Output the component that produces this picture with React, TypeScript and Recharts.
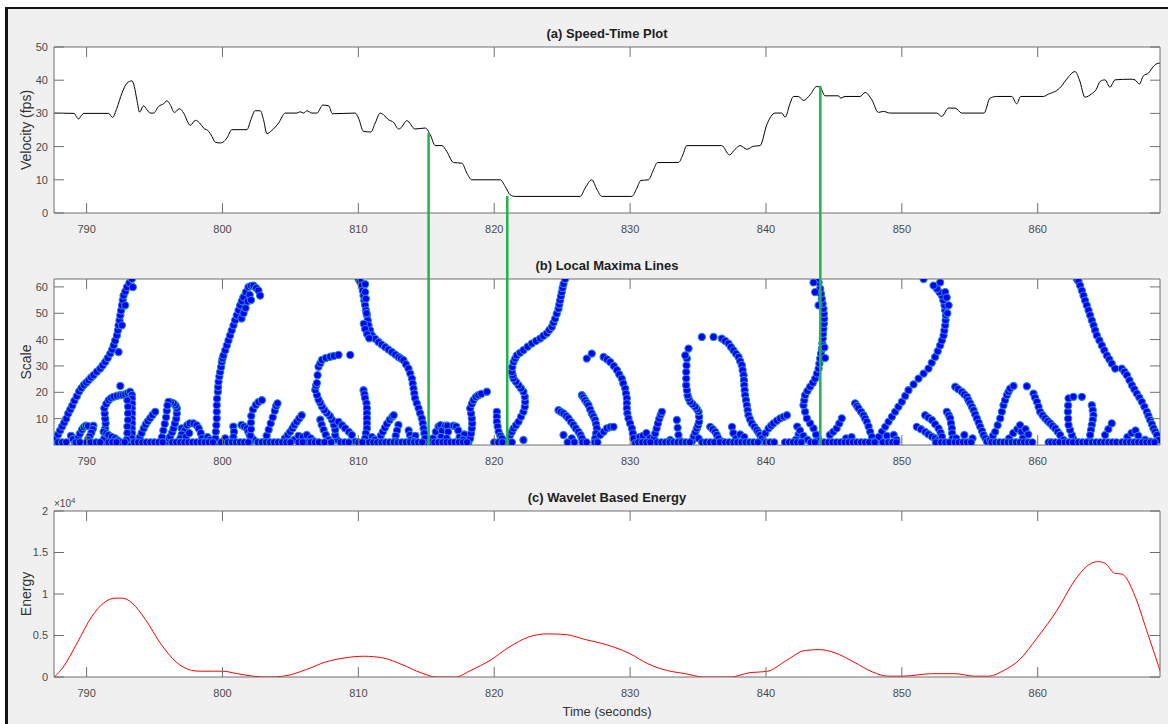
import React from 'react';
import { LineChart, Line, ScatterChart, Scatter, XAxis, YAxis, ComposedChart } from 'recharts';

const FONT = '"Liberation Sans", Arial, Helvetica, sans-serif';
const AX = '#6f6f6f';
const TICK_FILL = '#4a4a4a';
const TICK_FS = 11;
const TICK_LEN = 10;

// ---------- axes ----------
const X_DOMAIN: [number, number] = [787.6, 869];
const X_TICKS = [790, 800, 810, 820, 830, 840, 850, 860];
const V_DOMAIN: [number, number] = [0, 50];
const V_TICKS = [0, 10, 20, 30, 40, 50];
const S_DOMAIN: [number, number] = [0, 63];
const S_TICKS = [10, 20, 30, 40, 50, 60];
const E_DOMAIN: [number, number] = [0, 20000];
const E_TICKS = [0, 5000, 10000, 15000, 20000];

// ---------- (a) speed [time s, velocity fps] ----------
const speedPoints: [number, number][] = [
  [787.62, 30.1], [789.09, 30], [789.25, 29], [789.41, 28.3], [789.6, 29.3], [789.78, 30], [791.62, 30], [791.91, 28.8],
  [792.23, 31.6], [792.6, 36.1], [792.97, 39.1], [793.34, 39.8], [793.51, 38.1], [793.7, 34.1], [793.9, 30.4], [794.19, 32.3],
  [794.44, 31.1], [794.68, 30.1], [794.93, 30.1], [795.3, 32.1], [795.67, 32.9], [795.91, 33.8], [796.16, 32.6], [796.45, 30.3],
  [796.84, 31.4], [797.14, 30.1], [797.63, 26.4], [798.0, 27.9], [798.32, 27.1], [798.61, 25.6], [798.98, 24.6], [799.22, 23.1],
  [799.47, 21.3], [799.84, 21.1], [800.03, 21.3], [800.33, 22.6], [800.69, 25.1], [801.8, 25.1], [802.09, 28.1], [802.41, 30.8],
  [802.78, 30.8], [803.02, 28.1], [803.27, 23.9], [803.64, 24.9], [804.13, 27.1], [804.62, 30.1], [805.48, 30.1], [805.72, 30.5],
  [805.97, 30.1], [806.21, 30.8], [806.58, 30.1], [806.95, 30.1], [807.39, 32.5], [807.81, 32.3], [808.1, 29.9], [809.77, 30.1],
  [810.01, 28.6], [810.38, 24.6], [810.92, 24.4], [811.24, 27.1], [811.61, 30.1], [811.85, 29.6], [812.22, 28.1], [812.59, 27.3],
  [812.96, 25.3], [813.12, 25.6], [813.57, 27.8], [814.18, 25.3], [814.92, 25.6], [815.29, 23.6], [815.66, 20.3], [816.15, 20.3],
  [816.51, 18.5], [817.0, 15.2], [817.62, 15], [817.99, 12], [818.35, 10], [820.44, 10], [820.81, 8], [821.17, 5.5],
  [821.54, 5], [826.33, 5], [826.69, 7.5], [827.18, 10], [827.55, 7.2], [827.92, 5], [830.13, 5], [830.5, 7.5],
  [830.79, 9.8], [831.35, 10], [831.72, 13], [832.01, 15.2], [833.56, 15.2], [833.88, 17.5], [834.17, 20.3], [836.75, 20.3],
  [837.31, 17.5], [837.73, 19.2], [838.1, 20.3], [838.59, 19.2], [839.08, 20.1], [839.57, 20.3], [840.06, 26.6], [840.67, 30.1],
  [841.16, 30.1], [841.41, 28.9], [841.78, 33.1], [842.02, 35.1], [842.39, 35.1], [842.76, 33.9], [843.25, 35.6], [843.74, 38.1],
  [843.98, 37.9], [844.35, 35.3], [845.33, 35.3], [845.5, 34.6], [845.82, 35.1], [846.93, 35.1], [847.29, 36.3], [847.79, 34.1],
  [848.28, 30.3], [848.64, 30.6], [849.13, 30.1], [852.57, 30.1], [852.94, 29.1], [853.43, 31.6], [853.92, 31.6], [854.41, 30.1],
  [856.05, 30.1], [856.49, 34.6], [856.98, 35.1], [858.09, 35.1], [858.45, 32.9], [858.75, 35.1], [860.42, 35.1], [860.78, 35.8],
  [861.4, 36.9], [861.77, 38.3], [862.13, 40.3], [862.75, 42.6], [863.07, 40.1], [863.48, 34.9], [863.97, 35.9], [864.29, 37.1],
  [864.59, 39.6], [864.95, 40.1], [865.32, 37.9], [865.69, 40.1], [866.79, 40.3], [867.16, 40.1], [867.48, 38.8], [867.77, 41.3],
  [868.14, 42.1], [868.51, 44.1], [868.88, 45.1], [869.0, 45.1],
];

// ---------- green event markers [time, speed at event] ----------
const eventTimes = [815.17, 820.96, 844.0];
const eventSpeeds = [24.1, 5.1, 38.3];

// ---------- (b) local maxima lines [time, scale] ----------
const ridgeA: [number, number][] = [
  [787.62, 1], [787.75, 2.5], [787.9, 4], [788.05, 5.5], [788.2, 7], [788.35, 8.5], [788.5, 10], [788.65, 12], [788.8, 13.5],
  [788.95, 15], [789.1, 16.8], [789.28, 18.5], [789.45, 20.3], [789.62, 21.6], [789.8, 22.8], [789.98, 23.7], [790.15, 24.6],
  [790.33, 25.6], [790.51, 26.5], [790.75, 27.8], [791.0, 29], [791.18, 30.2], [791.37, 31.5], [791.55, 33], [791.74, 34.7],
  [791.88, 36.2], [791.99, 37.8], [792.1, 39.6], [792.23, 41.6], [792.3, 43.5], [792.35, 45.4], [792.42, 47.3], [792.48, 49.2],
  [792.54, 51], [792.6, 53], [792.66, 55], [792.72, 56.7], [792.85, 58.3], [792.97, 59.9], [793.15, 61.5], [793.33, 63],
  [793.4, 59.9], [792.35, 35.3], [792.6, 45.4], [792.84, 53],
];
const arch1: [number, number][] = [
  [791.25, 1.3], [791.3, 2.5], [791.37, 4.4], [791.37, 6.3], [791.4, 8.2], [791.37, 10], [791.33, 12], [791.3, 13.9],
  [791.45, 15.6], [791.62, 17], [791.8, 17.8], [791.99, 18.3], [792.24, 18.7], [792.48, 18.9], [792.66, 19], [792.84, 19.2],
  [793.02, 19.7], [793.2, 20.2], [793.33, 19], [793.33, 17.6], [793.35, 15.7], [793.33, 13.9], [793.35, 12], [793.33, 10],
  [793.35, 8.2], [793.33, 6.3], [793.35, 4.4], [793.33, 2.5], [793.2, 1], [792.48, 22.4],
  [791.25, 5], [791.45, 4.4], [791.6, 3.8], [791.85, 3.1], [792.1, 2.5], [792.3, 1.7], [792.5, 1],
  [793.0, 17], [793.05, 14.5], [793.05, 12], [793.05, 9.5], [793.0, 7], [793.0, 4.5], [792.95, 2],
];
const smallEarly: [number, number][] = [
  [788.85, 3.5], [789.0, 2.2], [789.15, 0.8],
  [789.29, 1.3], [789.38, 2.8], [789.5, 4.3], [789.66, 5.8], [789.8, 6.8], [789.95, 7.3], [790.1, 7.2],
  [790.5, 7.3], [790.45, 6], [790.35, 4.6], [790.22, 3.2], [790.1, 2], [790.0, 1],
  [793.8, 1.3], [793.9, 2.8], [794.05, 4.5], [794.2, 6.3], [794.35, 7.8], [794.5, 9], [794.68, 10.2], [794.85, 11.4], [795.05, 12.6],
  [795.9, 1.3], [796.05, 2.5], [796.15, 3.2], [796.3, 4.8], [796.4, 6.3], [796.5, 8.2], [796.6, 10], [796.64, 12], [796.64, 13.9],
  [796.55, 15], [796.4, 15.8], [796.2, 16.2], [796.03, 16.4],
  [795.55, 3], [795.65, 5.5], [795.75, 8], [795.85, 10.5], [795.9, 13], [795.95, 15],
  [797.0, 6.3], [797.2, 5.5], [797.0, 4], [796.9, 2.5], [796.85, 1.2],
  [797.4, 7.5], [797.6, 8.2], [797.87, 8.2], [798.1, 7.5], [798.25, 6.3], [798.4, 4.5], [798.5, 2.5], [798.55, 1],
  [797.3, 3], [797.55, 4.5], [798.9, 3], [799.1, 2],
];
const ridgeB: [number, number][] = [
  [799.46, 0.8], [799.48, 2.5], [799.51, 5], [799.55, 7.5], [799.58, 10.1], [799.58, 12.6], [799.58, 15.1], [799.6, 17.6],
  [799.66, 20.2], [799.68, 22], [799.71, 24], [799.77, 26], [799.83, 27.7], [799.9, 29.6], [799.95, 31.5], [800.0, 32.8],
  [800.07, 34], [800.2, 35.9], [800.32, 37.8], [800.44, 39.7], [800.56, 41.6], [800.68, 43.5], [800.81, 45.4], [800.93, 47.3],
  [801.05, 49.2], [801.18, 51.1], [801.3, 53], [801.42, 54.6], [801.54, 56.1], [801.72, 58], [801.91, 59.9], [802.1, 60.4],
  [802.28, 60.5], [802.47, 59.6], [802.65, 58.6], [802.77, 56.7], [801.4, 48], [801.55, 50], [801.7, 52], [801.85, 54.5],
  [802.0, 57], [802.1, 55],
];
const smallMid1: [number, number][] = [
  [800.1, 1], [800.2, 2.5],
  [800.8, 7], [800.85, 5], [800.8, 3], [800.75, 1],
  [801.4, 7.6], [801.6, 7], [801.8, 6.3], [801.9, 5], [802.0, 3.8], [802.15, 2.8], [802.3, 1.9],
  [802.0, 1], [802.05, 3.5], [802.1, 6], [802.1, 8.5], [802.12, 11], [802.25, 13.5], [802.45, 15.2], [802.65, 16.3], [802.9, 17],
  [803.1, 1.2], [803.25, 3.5], [803.4, 5.8], [803.55, 8.2], [803.7, 10.5], [803.85, 13], [803.95, 14.8], [804.05, 15.8],
  [804.5, 1.3], [804.6, 2.5], [804.8, 3.8], [804.98, 5], [805.15, 6.3], [805.3, 7.6], [805.47, 8.8], [805.65, 10.1], [805.83, 11.3],
  [805.3, 2], [805.6, 3.5], [805.9, 3], [806.2, 3.8], [806.5, 2.5], [806.7, 1.5], [806.3, 1],
];
const archD: [number, number][] = [
  [808.42, 2], [808.3, 3.8], [808.3, 5.8], [808.2, 7.7], [808.06, 9.6], [807.9, 11], [807.69, 12.1], [807.5, 13.3],
  [807.32, 14.6], [807.2, 16], [807.07, 17.2], [806.95, 19], [806.83, 20.9], [806.88, 22.5], [806.95, 23.5], [807.0, 26.5],
  [807.07, 29.7], [807.2, 31], [807.32, 32.3], [807.6, 33], [807.93, 33.5], [808.2, 33.8], [808.54, 34.2], [809.4, 34.2],
  [807.2, 9.6], [807.3, 7.7], [807.44, 5.8], [807.6, 3.9], [807.8, 2],
  [808.54, 8.8], [808.8, 7.5], [809.03, 6.3], [809.3, 5], [809.52, 3.8], [809.77, 1.3],
  [810.38, 20.8], [810.45, 19.2], [810.5, 17.7], [810.6, 15.8], [810.63, 13.9], [810.63, 12], [810.63, 10.1], [810.63, 8.2],
  [810.63, 6.3], [810.55, 4.4], [810.5, 2.5], [810.45, 1],
];
const ridgeD: [number, number][] = [
  [810.01, 63], [810.13, 62], [810.26, 60.5], [810.32, 58.6], [810.38, 56.7], [810.44, 54.8], [810.5, 53], [810.56, 51.1],
  [810.63, 49.2], [810.69, 47.3], [810.75, 45.4], [810.87, 43.5], [811.0, 41.6], [811.24, 40.3], [811.48, 39.1], [811.72, 38.1],
  [811.97, 37.2], [812.22, 36.2], [812.47, 35.3], [812.72, 34.3], [812.96, 33.4], [813.14, 32.8], [813.32, 32.2], [813.5, 30.6],
  [813.69, 29], [813.82, 27.1], [813.94, 25.2], [814.0, 23.3], [814.06, 21.4], [814.12, 19.5], [814.18, 17.7], [814.3, 15.8],
  [814.43, 13.9], [814.55, 12], [814.67, 10.1], [814.74, 8.2], [814.8, 6.3], [814.86, 4.4], [814.92, 2.5], [815.04, 0.6],
  [810.5, 61], [810.5, 58], [810.55, 55.5], [810.6, 50], [810.4, 46], [810.5, 44], [810.65, 42], [810.8, 40.5],
];
const smallMid2: [number, number][] = [
  [811.5, 1.9], [811.65, 3.5], [811.8, 5], [811.95, 6.5], [812.1, 8], [812.3, 9.5], [812.5, 10.7], [812.6, 11.3],
  [812.95, 7.6], [812.85, 5.5], [812.75, 3.5], [812.7, 1.5],
  [813.7, 5.5], [813.8, 3.8], [813.85, 2], [811.0, 3], [811.2, 2], [814.2, 3.5], [814.1, 1.5],
  [815.5, 2.5], [815.7, 5], [815.9, 7], [816.05, 7.5], [816.15, 5.5], [816.1, 3], [816.0, 1],
  [816.4, 7.3], [816.55, 7.3], [816.6, 5], [816.5, 2.5],
  [817.0, 7.3], [817.2, 7], [817.35, 5.5], [817.45, 3], [817.5, 1], [817.8, 4], [817.7, 2],
  [818.1, 1], [818.23, 2.5], [818.3, 4.4], [818.35, 6.3], [818.38, 8.2], [818.35, 10.1], [818.3, 12], [818.23, 13.9],
  [818.35, 15.6], [818.47, 17], [818.65, 18.2], [818.84, 18.9], [819.05, 19.4], [819.46, 20.2],
  [820.19, 12.6], [820.19, 10.7], [820.19, 8.8], [820.25, 7], [820.32, 5], [820.45, 3.5], [820.56, 2.5], [820.8, 0.6],
];
const ridgeF: [number, number][] = [
  [821.0, 0.6], [821.08, 2.2], [821.17, 3.8], [821.3, 5], [821.42, 6.3], [821.6, 7.5], [821.79, 8.8], [821.97, 10.7],
  [822.15, 12.6], [822.25, 14.5], [822.28, 16.4], [822.25, 18.3], [822.15, 20.2], [821.97, 21.5], [821.79, 22.7], [821.6, 24],
  [821.42, 25.2], [821.36, 26.5], [821.3, 27.7], [821.33, 29.6], [821.42, 31.5], [821.54, 32.8], [821.66, 34], [821.9, 35],
  [822.15, 36], [822.46, 37.3], [822.77, 38.5], [823.08, 39.5], [823.38, 40.4], [823.62, 41.4], [823.87, 42.4], [824.05, 43.6],
  [824.24, 44.8], [824.36, 46.4], [824.48, 47.9], [824.6, 49.8], [824.73, 51.7], [824.79, 53.3], [824.85, 54.9], [824.91, 56.5],
  [824.97, 58], [825.03, 59.6], [825.1, 61.1], [825.22, 63], [822.15, 1.9],
];
const smallMid3: [number, number][] = [
  [824.73, 13.2], [824.9, 12.6], [825.1, 12], [825.3, 11], [825.47, 10.1], [825.65, 8.8], [825.83, 7.6], [826.0, 6.3],
  [826.2, 5], [826.35, 3.8], [826.45, 2.5], [826.5, 1], [825.1, 3.8], [825.71, 2.5],
  [826.45, 18.9], [826.57, 18], [826.69, 17], [826.82, 16], [826.94, 15.1], [827.06, 13.5], [827.18, 12], [827.3, 10.8],
  [827.43, 9.5], [827.5, 7.9], [827.55, 6.3], [827.5, 4.4], [827.43, 2.5], [827.4, 1],
  [826.81, 32.8], [827.18, 34.7],
  [828.05, 33.4], [828.3, 32.5], [828.54, 31.5], [828.8, 30], [829.03, 28.4], [829.2, 26.8], [829.39, 25.2], [829.5, 23.3],
  [829.64, 21.4], [829.7, 19.5], [829.76, 17.7], [829.76, 15.8], [829.76, 13.9], [829.8, 12], [829.88, 10.1], [830.0, 8.2],
  [830.13, 6.3], [830.2, 4.4], [830.25, 2.5], [830.38, 0.6],
  [827.8, 3.8], [828.05, 5], [828.29, 6.3], [828.55, 6.8], [828.78, 6.9],
  [830.7, 3], [830.95, 3.5], [831.2, 4.5], [831.45, 2.5],
  [831.7, 0.6], [831.75, 2.5], [831.85, 4.4], [831.95, 6.3], [832.05, 8.2], [832.15, 10], [832.25, 11.5], [832.34, 12.6],
  [832.95, 1.9], [833.44, 9.5], [833.5, 6.5], [833.56, 3.8], [833.7, 1.5],
];
const archH: [number, number][] = [
  [834.55, 1.3], [834.67, 3.2], [834.8, 4.8], [834.91, 6.3], [835.0, 7.5], [835.08, 8.8], [835.08, 10.7], [835.04, 12.6],
  [834.92, 13.6], [834.79, 14.5], [834.6, 15.5], [834.42, 16.4], [834.3, 17.7], [834.23, 18.9], [834.18, 20.8], [834.13, 22.7],
  [834.13, 25.2], [834.13, 27.7], [834.15, 30.2], [834.18, 32.8], [834.06, 34], [834.3, 36.6],
  [835.04, 2.5], [835.28, 41], [836.14, 41],
  [836.75, 40.4], [837.0, 39.5], [837.24, 38.5], [837.42, 37.2], [837.61, 35.9], [837.8, 34.6], [837.98, 33.4], [838.1, 31.8],
  [838.22, 30.3], [838.28, 28.4], [838.35, 26.5], [838.38, 24.6], [838.4, 22.7], [838.43, 20.8], [838.47, 18.9], [838.53, 17],
  [838.59, 15.1], [838.65, 13.2], [838.71, 11.3], [838.83, 9.7], [838.96, 8.2], [839.15, 6.9], [839.33, 5.7], [839.45, 4.7],
  [839.57, 3.8], [839.7, 2.5], [839.82, 1.3],
  [835.9, 6.9], [836.08, 6], [836.26, 5], [836.38, 3.8], [836.5, 2.5], [836.75, 1.3],
  [837.5, 6.9], [837.6, 4.5], [837.8, 2.5], [838.1, 4], [838.4, 3],
  [839.95, 4.4], [840.19, 6.3], [840.37, 7.3], [840.55, 8.2], [840.8, 9.2], [841.05, 10.1], [841.3, 10.7], [841.54, 11.3],
  [842.3, 7], [842.4, 4], [842.2, 2],
];
const ridgeJ: [number, number][] = [
  [843.99, 0.6], [843.85, 2.2], [843.68, 4], [843.5, 6.3], [843.25, 8.2], [843.01, 10.1], [842.88, 12.6], [842.76, 15.1],
  [842.82, 17], [842.88, 18.9], [843.05, 20.5], [843.25, 22.1], [843.45, 23.6], [843.62, 25.2], [843.75, 27.1], [843.87, 29],
  [843.93, 30.9], [843.99, 32.8], [844.05, 34.7], [844.11, 36.6], [844.15, 38.5], [844.18, 40.4], [844.2, 42.2], [844.23, 44.1],
  [844.26, 46], [844.28, 47.9], [844.26, 49.8], [844.23, 51.7], [844.17, 53.6], [844.11, 55.5], [844.05, 57.4], [843.99, 59.3],
  [843.87, 61.7], [843.74, 63], [843.5, 61.7], [843.62, 58], [843.87, 53], [844.3, 37], [844.35, 33],
  [842.5, 5.5], [842.75, 3.5], [843.05, 2], [843.3, 1],
  [844.7, 3.8], [844.95, 5], [845.2, 6.3], [845.4, 8.2], [845.58, 10.1],
  [846.56, 15.8], [846.7, 14.8], [846.81, 13.9], [847.0, 12.6], [847.18, 11.3], [847.3, 10], [847.42, 8.8], [847.55, 7],
  [847.67, 5], [847.8, 3.1], [847.91, 1.3], [845.9, 2.5], [846.3, 3],
];
const ridgeK: [number, number][] = [
  [848.16, 1.3], [848.35, 3.1], [848.53, 5], [848.78, 6.9], [849.02, 8.8], [849.27, 10.7], [849.51, 12.6], [849.75, 14.5],
  [850.0, 16.4], [850.25, 18.6], [850.49, 20.8], [850.86, 23], [851.23, 25.2], [851.6, 27.1], [851.96, 29], [852.2, 31.2],
  [852.45, 33.4], [852.64, 35.6], [852.82, 37.8], [852.95, 39.7], [853.07, 41.6], [853.13, 43.5], [853.19, 45.4], [853.22, 47.3],
  [853.24, 49.2], [853.19, 51.1], [853.14, 53], [853.05, 54.9], [852.95, 56.7], [852.77, 58], [852.58, 59.3], [852.33, 60.5],
  [852.82, 61.7], [853.19, 58], [853.44, 53], [853.3, 56], [853.35, 50], [851.6, 63],
];
const smallLate: [number, number][] = [
  [848.3, 3], [848.9, 3.5], [849.4, 3.8], [849.6, 2],
  [851.1, 6.9], [851.4, 6], [851.72, 5], [851.95, 4.1], [852.21, 3.2], [852.45, 2.5], [852.7, 1.9],
  [851.72, 11.3], [851.95, 10.4], [852.21, 9.5], [852.45, 7.9], [852.7, 6.3], [852.85, 4.7], [852.95, 3.2],
  [853.31, 12.6], [853.45, 11.3], [853.56, 10.1], [853.62, 8.2], [853.68, 6.3], [853.7, 4.4], [853.73, 2.5],
  [853.93, 22.1], [854.15, 21.2], [854.42, 20.2], [854.6, 19.2], [854.79, 18.3], [854.9, 17], [855.03, 15.8], [855.15, 14.5],
  [855.28, 13.2], [855.4, 11.6], [855.52, 10.1], [855.65, 8.5], [855.77, 6.9], [855.9, 5.3], [856.01, 3.8], [856.15, 2.5], [856.26, 1.3],
  [854.0, 2.5], [854.6, 3.8], [855.2, 2.5],
  [856.5, 1.9], [856.7, 3.5], [856.87, 5], [857.05, 7.5], [857.24, 10.1], [857.36, 12.6], [857.48, 15.1], [857.6, 17],
  [857.73, 18.9], [857.85, 20.2], [857.97, 21.4], [858.22, 22.4], [859.2, 22.3],
  [857.9, 2.5], [858.2, 4.5], [858.5, 6], [858.7, 7.5], [858.8, 5], [858.9, 2.5], [859.1, 6], [859.3, 4],
  [859.69, 19.5], [859.8, 18], [859.94, 16.4], [860.06, 14.5], [860.18, 12.6], [860.36, 11.3], [860.55, 10.1], [860.73, 9.1],
  [860.92, 8.2], [861.1, 7.2], [861.29, 6.3], [861.47, 5], [861.65, 3.8], [861.9, 1.9],
  [862.76, 1.3], [862.6, 2.5], [862.51, 3.8], [862.38, 5.7], [862.27, 7.6], [862.24, 10], [862.22, 12.6], [862.24, 15],
  [862.27, 17.7], [862.63, 18.3], [863.25, 18.3],
  [863.98, 15.1], [864.05, 13.2], [864.1, 11.3], [864.05, 9.5], [863.98, 7.6], [863.92, 5.7], [863.86, 3.8], [863.74, 1.3],
  [864.96, 3.8], [865.2, 6], [865.45, 8.2],
  [866.6, 3], [866.9, 4.5], [867.2, 5.5], [867.4, 3.5], [867.9, 2], [868.3, 1.3],
];
const ridgeP: [number, number][] = [
  [862.88, 63], [863.0, 62.1], [863.12, 60.5], [863.25, 58.6], [863.37, 56.7], [863.49, 54.8], [863.61, 53], [863.74, 51.1],
  [863.86, 49.2], [863.98, 47.3], [864.11, 45.4], [864.23, 43.5], [864.35, 41.6], [864.54, 39.7], [864.72, 37.8], [864.9, 35.9],
  [865.09, 34], [865.27, 32.5], [865.45, 30.9], [865.7, 29], [866.19, 29], [866.38, 27.8], [866.56, 26.5], [866.75, 24.6],
  [866.93, 22.7], [867.11, 21.1], [867.29, 19.5], [867.48, 18], [867.66, 16.4], [867.85, 14.5], [868.03, 12.6], [868.15, 11],
  [868.27, 9.5], [868.4, 7.9], [868.52, 6.3], [868.65, 5], [868.77, 3.8], [868.89, 1.9],
];
const BASE_SCALE = 1;
const baseTimes = [
  787.9, 788.2, 788.5, 789.2, 789.5, 790.3, 790.7, 791.0, 791.6, 791.9, 792.2, 792.8, 793.5, 793.8, 794.1, 794.4, 794.7, 795.0,
  795.3, 795.6, 796.3, 796.6, 796.9, 797.2, 797.5, 797.8, 798.1, 798.4, 798.7, 799.0, 799.3, 799.9, 800.4, 800.7, 801.0, 801.3,
  801.6, 801.9, 802.6, 802.9, 803.2, 803.5, 803.8, 804.1, 804.4, 804.7, 805.0, 805.6, 805.9, 806.5, 806.8, 807.1, 807.5, 808.0,
  808.7, 809.0, 809.3, 810.0, 810.3, 810.8, 811.1, 811.4, 811.7, 812.0, 812.3, 812.6, 812.9, 813.2, 813.5, 813.8, 814.1, 814.4,
  814.7, 815.3, 815.6, 815.9, 816.2, 816.5, 816.8, 817.1, 817.4, 817.7, 818.0, 820.0, 820.3, 820.6, 821.3, 825.4, 825.9, 826.8,
  827.6, 830.6, 830.9, 831.2, 831.5, 832.0, 832.3, 832.6, 832.9, 833.2, 833.5, 833.8, 834.1, 834.4, 835.3, 835.6, 835.9, 836.2,
  836.6, 837.0, 837.3, 837.6, 837.9, 838.2, 838.5, 838.8, 839.1, 839.4, 840.0, 840.3, 840.6, 841.4, 841.7, 842.0, 842.3, 842.6,
  843.6, 844.3, 844.6, 844.9, 845.2, 845.5, 845.8, 846.1, 846.4, 846.7, 847.0, 847.3, 847.6, 848.0, 848.6, 849.0, 849.3, 849.6,
  852.5, 852.9, 853.2, 853.5, 853.9, 854.2, 854.5, 854.8, 855.1, 856.6, 856.9, 857.2, 857.5, 857.8, 858.1, 858.4, 858.7, 859.0,
  859.3, 859.6, 860.8, 861.0, 861.3, 861.6, 862.0, 862.3, 862.6, 863.0, 863.3, 863.6, 864.0, 864.3, 864.6, 864.9, 865.2, 865.5,
  865.8, 866.2, 866.5, 866.8, 867.1, 867.4, 867.7, 868.0, 868.3, 868.6,
];

// ---------- (c) wavelet energy [time, energy] ----------
const energyPoints: [number, number][] = [
  [787.63, 0], [788.28, 1200], [789.27, 4000], [790.39, 7300], [791.24, 8900], [792.08, 9500], [792.65, 9500], [793.35, 8900],
  [794.34, 6900], [795.46, 4000], [796.59, 1800], [797.72, 800], [798.28, 700], [799.97, 700], [801.1, 400], [802.23, 100],
  [803.35, 0], [804.48, 100], [806.17, 900], [807.58, 1800], [808.99, 2300], [810.4, 2500], [811.8, 2300], [813.21, 1500],
  [814.62, 500], [815.75, 0], [817.15, 0], [818.28, 800], [819.69, 2000], [821.1, 3600], [822.5, 4800], [823.91, 5200],
  [825.32, 5100], [826.73, 4500], [827.8, 4100], [830.0, 2800], [831.3, 1600], [832.68, 800], [834.06, 400], [835.44, 0],
  [837.37, 0], [838.75, 500], [840.13, 700], [841.51, 2000], [842.89, 3200], [843.99, 3300], [845.09, 2900], [846.47, 1800],
  [847.85, 600], [848.95, 100], [850.06, 100], [852.27, 400], [853.92, 400], [855.3, 100], [856.4, 100], [857.51, 800],
  [858.61, 2000], [859.99, 4800], [861.37, 7900], [862.75, 11700], [863.58, 13300], [864.41, 13900], [864.96, 13700],
  [865.65, 12500], [866.2, 12400], [867.17, 9700], [868.0, 5700], [869.04, 600],
];

const speedData = speedPoints.map(([t, v]) => ({ t, v }));
const energyData = energyPoints.map(([t, e]) => ({ t, e }));
const maximaData = [
  ...ridgeA, ...arch1, ...smallEarly, ...ridgeB, ...smallMid1, ...archD, ...ridgeD, ...smallMid2,
  ...ridgeF, ...smallMid3, ...archH, ...ridgeJ, ...ridgeK, ...smallLate, ...ridgeP,
  ...baseTimes.map((t) => [t, BASE_SCALE] as [number, number]),
].map(([t, s]) => ({ t, s }));

// ---------- layout ----------
const W = 1168;
const CH = 245;
const XH = 20;
const M = { top: 46, right: 7, bottom: 12, left: 14 }; // + 1px mirrored top/right axes
const YW = 40;
const PLOT_TOP = M.top + 1;
const PLOT_H = CH - PLOT_TOP - M.bottom - XH; // 166
const TOPS = [0, 232, 464];
const PLOT_L = M.left + YW;
const PLOT_W = W - PLOT_L - M.right - 1;
const OVERLAY_H = TOPS[1] + PLOT_H;
const OVERLAY_MIN = V_DOMAIN[1] - (V_DOMAIN[1] - V_DOMAIN[0]) * (OVERLAY_H / PLOT_H);

const X_TM = 12; // gap between bottom axis and label top
const Y_TM = 6;  // gap between left axis and label end

// ---------- MATLAB-style inward ticks ----------
const BottomTick = (p: any) => (
  <g>
    <line x1={p.x} x2={p.x} y1={p.y - X_TM} y2={p.y - X_TM - TICK_LEN} stroke={AX} />
    <text x={p.x} y={p.y} dy="0.71em" textAnchor="middle" fontSize={TICK_FS} fill={TICK_FILL} fontFamily={FONT}>
      {p.payload.value}
    </text>
  </g>
);
const TopTick = (p: any) => (
  <line x1={p.x} x2={p.x} y1={p.y} y2={p.y + TICK_LEN} stroke={AX} />
);
const makeLeftTick = (fmt?: (v: number) => string) => (p: any) => (
  <g>
    <line x1={p.x + Y_TM} x2={p.x + Y_TM + TICK_LEN} y1={p.y} y2={p.y} stroke={AX} />
    <text x={p.x} y={p.y} dy="0.355em" textAnchor="end" fontSize={TICK_FS} fill={TICK_FILL} fontFamily={FONT}>
      {fmt ? fmt(p.payload.value) : p.payload.value}
    </text>
  </g>
);
const RightTick = (p: any) => (
  <line x1={p.x} x2={p.x - TICK_LEN} y1={p.y} y2={p.y} stroke={AX} />
);

const MaximaDot = (p: any) => (
  <circle cx={p.cx} cy={p.cy} r={3.6} fill="#0000ff" stroke="#2a86c8" strokeWidth={1.1} />
);
const NoDot = () => <g />;

function frameAxes(yKey: string, domain: [number, number], ticks: number[], fmt?: (v: number) => string) {
  return [
    <XAxis key="xb" dataKey="t" type="number" domain={X_DOMAIN} ticks={X_TICKS} allowDataOverflow interval={0}
      tickSize={0} tickMargin={X_TM} height={XH} axisLine={{ stroke: AX }} tickLine={false} tick={BottomTick} />,
    <XAxis key="xt" xAxisId="top" orientation="top" dataKey="t" type="number" domain={X_DOMAIN} ticks={X_TICKS}
      allowDataOverflow interval={0} tickSize={0} tickMargin={0} height={1} axisLine={{ stroke: AX }} tickLine={false}
      tick={TopTick} />,
    <YAxis key="yl" dataKey={yKey} type="number" domain={domain} ticks={ticks} allowDataOverflow interval={0}
      tickSize={0} tickMargin={Y_TM} width={YW} axisLine={{ stroke: AX }} tickLine={false} tick={makeLeftTick(fmt)} />,
    <YAxis key="yr" yAxisId="right" orientation="right" dataKey={yKey} type="number" domain={domain} ticks={ticks}
      allowDataOverflow interval={0} tickSize={0} tickMargin={0} width={1} axisLine={{ stroke: AX }} tickLine={false}
      tick={RightTick} />,
  ];
}

const plotBg = (top: number): React.CSSProperties => ({
  position: 'absolute', left: PLOT_L, top: top + PLOT_TOP, width: PLOT_W, height: PLOT_H, background: '#ffffff',
});
const titleStyle = (top: number): React.CSSProperties => ({
  position: 'absolute', left: PLOT_L, width: PLOT_W, top, textAlign: 'center',
  fontFamily: FONT, fontWeight: 'bold', fontSize: 13, lineHeight: '15px', color: '#1e1e1e',
});
const yLabelStyle = (centerY: number): React.CSSProperties => ({
  position: 'absolute', left: 26 - 80, top: centerY - 9, width: 160, height: 18, lineHeight: '18px',
  textAlign: 'center', transform: 'rotate(-90deg)', fontFamily: FONT, fontSize: 14, color: '#333',
});

export default function App() {
  return (
    <div style={{ position: 'fixed', left: 0, top: 0, width: W, height: 724, background: '#ffffff', overflow: 'hidden' }}>
      <div style={{ position: 'absolute', left: 5, top: 7, width: W - 5, height: 724 - 7, background: '#f0f0f0',
        borderTop: '2px solid #141414', borderLeft: '3px solid #141414', boxSizing: 'border-box' }} />
      <div style={plotBg(TOPS[0])} />
      <div style={plotBg(TOPS[1])} />
      <div style={plotBg(TOPS[2])} />

      {/* (a) speed */}
      <div style={{ position: 'absolute', left: 0, top: TOPS[0] }}>
        <LineChart width={W} height={CH} data={speedData} margin={M}>
          {frameAxes('v', V_DOMAIN, V_TICKS)}
          <Line xAxisId="top" yAxisId="right" type="monotone" dataKey="v" stroke="none" dot={false}
            isAnimationActive={false} legendType="none" />
          <Line type="monotone" dataKey="v" stroke="#000000" strokeWidth={1} dot={false} isAnimationActive={false} />
        </LineChart>
      </div>

      {/* (b) local maxima */}
      <div style={{ position: 'absolute', left: 0, top: TOPS[1] }}>
        <ScatterChart width={W} height={CH} margin={M}>
          {frameAxes('s', S_DOMAIN, S_TICKS)}
          <Scatter xAxisId="top" yAxisId="right" data={maximaData} dataKey="s" shape={NoDot} isAnimationActive={false}
            legendType="none" />
          <Scatter data={maximaData} dataKey="s" shape={MaximaDot} isAnimationActive={false} />
        </ScatterChart>
      </div>

      {/* (c) energy */}
      <div style={{ position: 'absolute', left: 0, top: TOPS[2] }}>
        <LineChart width={W} height={CH} data={energyData} margin={M}>
          {frameAxes('e', E_DOMAIN, E_TICKS, (v: number) => String(v / 10000))}
          <Line xAxisId="top" yAxisId="right" type="monotone" dataKey="e" stroke="none" dot={false}
            isAnimationActive={false} legendType="none" />
          <Line type="monotone" dataKey="e" stroke="#ff0000" strokeWidth={1} dot={false} isAnimationActive={false} />
        </LineChart>
      </div>

      {/* green event lines spanning (a) and (b) */}
      <div style={{ position: 'absolute', left: 0, top: 0, pointerEvents: 'none' }}>
        <ComposedChart width={W} height={PLOT_TOP + OVERLAY_H + M.bottom + XH}
          margin={{ top: PLOT_TOP, right: M.right + 1, bottom: M.bottom + XH, left: PLOT_L }}>
          <XAxis dataKey="t" type="number" domain={X_DOMAIN} allowDataOverflow hide />
          <YAxis type="number" domain={[OVERLAY_MIN, V_DOMAIN[1]]} allowDataOverflow hide />
          {eventTimes.map((t, i) => (
            <Line key={i} data={[{ t, y: eventSpeeds[i] }, { t, y: OVERLAY_MIN }]} dataKey="y" type="linear"
              stroke="#22b34a" strokeWidth={2.5} dot={false} isAnimationActive={false} />
          ))}
        </ComposedChart>
      </div>

      <div style={titleStyle(26)}>(a) Speed-Time Plot</div>
      <div style={titleStyle(258)}>(b) Local Maxima Lines</div>
      <div style={titleStyle(490)}>(c) Wavelet Based Energy</div>

      <div style={yLabelStyle(TOPS[0] + PLOT_TOP + PLOT_H / 2)}>Velocity (fps)</div>
      <div style={yLabelStyle(TOPS[1] + PLOT_TOP + PLOT_H / 2)}>Scale</div>
      <div style={yLabelStyle(TOPS[2] + PLOT_TOP + PLOT_H / 2)}>Energy</div>

      <div style={{ position: 'absolute', left: PLOT_L, top: 496, fontFamily: FONT, fontSize: 10, color: '#4a4a4a' }}>
        ×10<sup style={{ fontSize: 8 }}>4</sup>
      </div>
      <div style={{ position: 'absolute', left: PLOT_L, width: PLOT_W, top: 704, textAlign: 'center',
        fontFamily: FONT, fontSize: 13, lineHeight: '16px', color: '#333' }}>Time (seconds)</div>
    </div>
  );
}
